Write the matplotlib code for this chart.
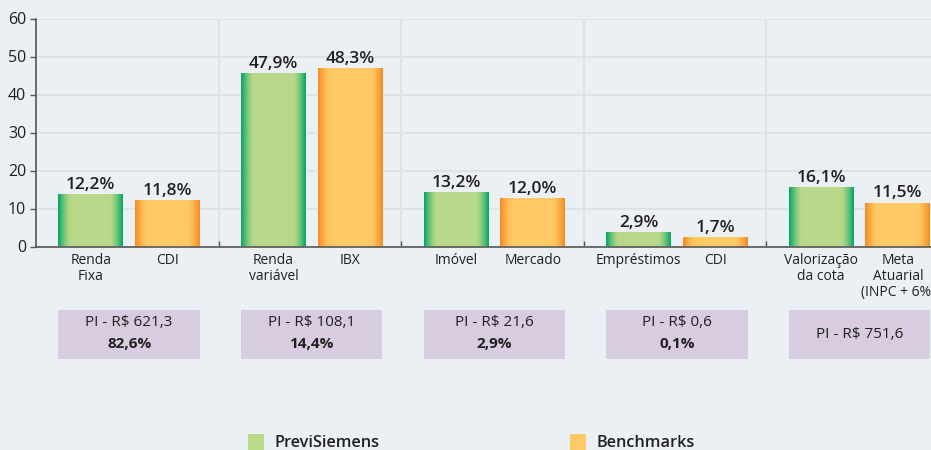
import numpy as np
import matplotlib.pyplot as plt
from matplotlib.colors import to_rgb
from matplotlib.patches import Rectangle
from matplotlib.transforms import blended_transform_factory

plt.rcParams['font.family'] = ['Open Sans', 'DejaVu Sans']

# data
groups = ['Renda Fixa', 'Renda variável', 'Imóvel', 'Empréstimos', 'Valorização']
previ_heights = [13.6, 45.5, 14.1, 3.5, 15.4]
bench_heights = [12.0, 46.8, 12.5, 2.3, 11.3]
previ_labels = ['12,2%', '47,9%', '13,2%', '2,9%', '16,1%']
bench_labels = ['11,8%', '48,3%', '12,0%', '1,7%', '11,5%']
previ_names = ['Renda\nFixa', 'Renda\nvariável', 'Imóvel', 'Empréstimos', 'Valorização\nda cota']
bench_names = ['CDI', 'IBX', 'Mercado', 'CDI', 'Meta\nAtuarial\n(INPC + 6%)']
pi_values = ['PI - R$ 621,3', 'PI - R$ 108,1', 'PI - R$ 21,6', 'PI - R$ 0,6', 'PI - R$ 751,6']
pi_shares = ['82,6%', '14,4%', '2,9%', '0,1%', '']
yticks = [0, 10, 20, 30, 40, 50, 60]

bg = '#eaf0f3'
txt = '#231f20'
green_edge, green_mid = '#00a562', '#b9d98a'
orange_edge, orange_mid = '#f68b1f', '#ffca66'

fig = plt.figure(figsize=(9.31, 4.5), dpi=100)
fig.patch.set_facecolor(bg)
ax = fig.add_axes([36 / 931, 1 - 246.5 / 450, 913 / 931, 228 / 450])
ax.set_facecolor(bg)

n = len(groups)
x = np.arange(n)
w = 0.355
x1 = x + 0.3
x2 = x + 0.72


def gradient(edge, mid):
    t = np.linspace(0, 1, 200)
    d = np.minimum(t, 1 - t)
    k = np.clip(1 - d / 0.2, 0, 1) ** 1.5
    e = np.array(to_rgb(edge))
    m = np.array(to_rgb(mid))
    row = m[None, :] * (1 - k[:, None]) + e[None, :] * k[:, None]
    return row[None, :, :]


b1 = ax.bar(x1, previ_heights, width=w, color=green_mid, zorder=3)
b2 = ax.bar(x2, bench_heights, width=w, color=orange_mid, zorder=3)

for bars, grad in ((b1, gradient(green_edge, green_mid)), (b2, gradient(orange_edge, orange_mid))):
    for b in bars:
        bx, by, bw, bh = b.get_x(), b.get_y(), b.get_width(), b.get_height()
        ax.imshow(grad, extent=[bx, bx + bw, by, by + bh], aspect='auto', zorder=4, interpolation='bilinear')

for xs, hs, labs in ((x1, previ_heights, previ_labels), (x2, bench_heights, bench_labels)):
    for xi, h, lab in zip(xs, hs, labs):
        ax.annotate(lab, (xi, h), xytext=(0, 1.5), textcoords='offset points', ha='center', va='bottom',
                    fontsize=12.5, fontweight='semibold', color=txt, zorder=5)

for xs, names in ((x1, previ_names), (x2, bench_names)):
    for xi, nm in zip(xs, names):
        ax.annotate(nm, (xi, 0), xytext=(0, -5), textcoords='offset points', ha='center', va='top',
                    fontsize=10, color=txt, linespacing=1.05, annotation_clip=False)

# PI boxes
tr = blended_transform_factory(ax.transData, fig.transFigure)
box_bottom = 1 - 358.5 / 450
box_top = 1 - 310 / 450
for i in range(n):
    left = x1[i] - w / 2
    right = x2[i] + w / 2
    fig.patches.append(Rectangle((left, box_bottom), right - left, box_top - box_bottom,
                                 transform=tr, facecolor='#d8cce0', edgecolor='none'))
    cx = (left + right) / 2
    if pi_shares[i]:
        fig.text(cx, 1 - 323 / 450, pi_values[i], transform=tr, ha='center', va='center', fontsize=11, color=txt)
        fig.text(cx, 1 - 344 / 450, pi_shares[i], transform=tr, ha='center', va='center', fontsize=11,
                 fontweight='bold', color=txt)
    else:
        fig.text(cx, 1 - 334 / 450, pi_values[i], transform=tr, ha='center', va='center', fontsize=11, color=txt)

ax.set_xlim(0, n)
ax.set_ylim(0, 60)
ax.set_yticks(yticks)
ax.set_xticks(x[1:])
ax.set_xticklabels([])
ax.tick_params(axis='y', length=4, width=1, color='#555555', labelsize=11.5, labelcolor=txt, pad=3)
ax.tick_params(axis='x', length=4, width=1, color='#555555', direction='in')
ax.grid(True, color='#dce3e6', linewidth=1.5, zorder=0)
ax.set_axisbelow(True)
for s in ('top', 'right'):
    ax.spines[s].set_visible(False)
for s in ('left', 'bottom'):
    ax.spines[s].set_color('#555555')
    ax.spines[s].set_linewidth(1.2)
    ax.spines[s].set_zorder(6)

# legend
fig.patches.append(Rectangle((248 / 931, 0), 16 / 931, 16 / 450, transform=fig.transFigure,
                             facecolor='#bada8a', edgecolor='none'))
fig.text(275 / 931, 1 - 447 / 450, 'PreviSiemens', ha='left', va='baseline', fontsize=11.7,
         fontweight='semibold', color=txt)
fig.patches.append(Rectangle((570 / 931, 0), 16 / 931, 16 / 450, transform=fig.transFigure,
                             facecolor='#ffca66', edgecolor='none'))
fig.text(596 / 931, 1 - 447 / 450, 'Benchmarks', ha='left', va='baseline', fontsize=11.7,
         fontweight='semibold', color=txt)

fig.savefig('out.png', dpi=100, facecolor=bg)
